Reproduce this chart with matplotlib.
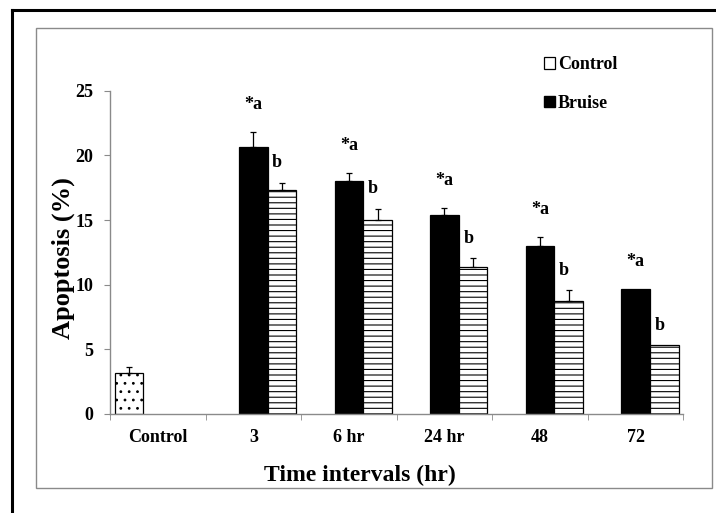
import matplotlib
matplotlib.use("Agg")
import matplotlib.pyplot as plt
from matplotlib.patches import Patch, Rectangle
from matplotlib.lines import Line2D
import numpy as np

plt.rcParams["font.family"] = ["Liberation Serif", "DejaVu Serif"]
plt.rcParams["font.weight"] = "bold"
plt.rcParams["hatch.linewidth"] = 0.8

# data
categories = ["Control", "3", "6 hr", "24 hr", "48", "72"]
baseline_value = 3.2
baseline_err = 0.45
bruise = [20.65, 18.0, 15.36, 13.0, 9.66]
bruise_err = [1.16, 0.66, 0.57, 0.7, 0.0]
control = [17.32, 14.98, 11.37, 8.7, 5.33]
control_err = [0.57, 0.87, 0.67, 0.86, 0.0]
bruise_marks = ["*a"] * 5
control_marks = ["b"] * 5

W, H = 716, 513
fig = plt.figure(figsize=(W / 100, H / 100), dpi=100)
ax = fig.add_axes([110 / W, 1 - 414 / H, (683.3 - 110) / W, (414 - 90.7) / H])

grey = "#8a8a8a"
bw = 0.3
x = np.arange(1, len(categories))

ax.bar(0 - bw, baseline_value, bw, color="white", edgecolor="black",
       linewidth=0.9, hatch="..")
ax.errorbar(0 - bw, baseline_value, yerr=[[0], [baseline_err]], fmt="none",
            ecolor="black", elinewidth=0.9, capsize=2.5, capthick=0.9)

ax.bar(x, bruise, bw, color="black", edgecolor="black", linewidth=0.9)
ax.bar(x + bw, control, bw, color="white", edgecolor="black",
       linewidth=0.9, hatch="---")
for xs, vals, errs in [(x, bruise, bruise_err), (x + bw, control, control_err)]:
    e = np.array(errs)
    m = e > 0
    ax.errorbar(xs[m], np.array(vals)[m], yerr=[np.zeros(m.sum()), e[m]],
                fmt="none", ecolor="black", elinewidth=0.9, capsize=2.5,
                capthick=0.9)

for i in range(len(x)):
    ax.text(x[i], bruise[i] + bruise_err[i] + 2.1, bruise_marks[i],
            ha="center", va="center", fontsize=13, fontweight="bold")
    ax.text(x[i] + bw - 0.05, control[i] + control_err[i] + 1.55,
            control_marks[i], ha="center", va="center", fontsize=13,
            fontweight="bold")

ax.set_xlim(-0.5, len(categories) - 0.5)
ax.set_ylim(0, 25)
ax.set_yticks(range(0, 26, 5))
ax.set_xticks(range(len(categories)))
ax.set_xticklabels(categories)
ax.set_xticks(np.arange(-0.5, len(categories), 1), minor=True)
ax.tick_params(axis="x", which="major", length=0, pad=11, labelsize=13)
ax.tick_params(axis="x", which="minor", length=4, color=grey, direction="out")
ax.tick_params(axis="y", length=4, color=grey, pad=8, labelsize=13)
for s in ["top", "right"]:
    ax.spines[s].set_visible(False)
for s in ["left", "bottom"]:
    ax.spines[s].set_color(grey)
    ax.spines[s].set_linewidth(1.0)

fig.text(63 / W, 1 - 258 / H, "Apoptosis (%)", rotation=90, ha="center",
         va="center", fontsize=19, fontweight="bold")
fig.text(360 / W, 1 - 475 / H, "Time intervals (hr)", ha="center",
         va="center", fontsize=17, fontweight="bold")

handles = [Patch(facecolor="white", edgecolor="black", linewidth=0.9),
           Patch(facecolor="black", edgecolor="black")]
fig.legend(handles, ["Control", "Bruise"], loc="upper left",
           bbox_to_anchor=(528 / W, 1 - 40 / H), frameon=False,
           prop={"size": 13, "weight": "bold"}, handlelength=0.6,
           handleheight=0.6, handletextpad=0.15, labelspacing=1.2)

# chart area border and outer frame
fig.patches.append(Rectangle((35.7 / W, 1 - 488 / H), (711.7 - 35.7) / W,
                             (488 - 28) / H, transform=fig.transFigure,
                             fill=False, edgecolor=grey, linewidth=1.0))
fig.lines.append(Line2D([12 / W, 1.0], [1 - 9.5 / H, 1 - 9.5 / H],
                        transform=fig.transFigure, color="black", linewidth=2.2))
fig.lines.append(Line2D([12 / W, 12 / W], [1 - 9.5 / H, 0.0],
                        transform=fig.transFigure, color="black", linewidth=2.2))

fig.savefig("out.png", dpi=100)
